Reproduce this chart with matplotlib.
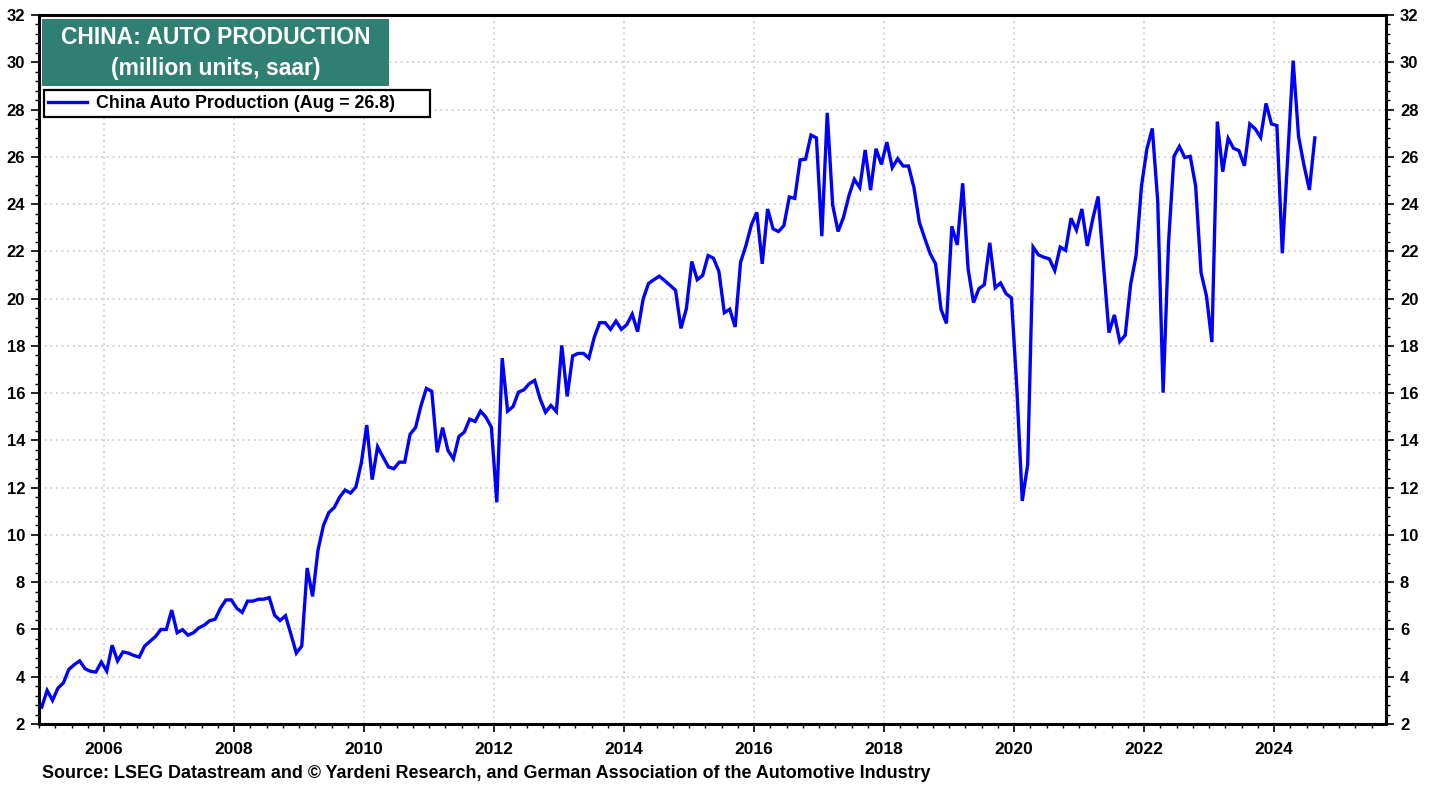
import matplotlib.pyplot as plt
import numpy as np
from matplotlib.ticker import MultipleLocator, FuncFormatter

plt.rcParams["font.family"] = ["Liberation Sans", "DejaVu Sans"]
plt.rcParams["font.weight"] = "bold"

start_year = 2005
# monthly values, million units saar, Jan 2005 .. Aug 2024
production = [
    2.71, 3.42, 3.0, 3.52, 3.74, 4.31, 4.51, 4.67, 4.34, 4.23, 4.2, 4.62,
    4.24, 5.33, 4.67, 5.05, 5.0, 4.9, 4.83, 5.3, 5.5, 5.7, 6.0, 6.0,
    6.82, 5.86, 5.99, 5.76, 5.86, 6.07, 6.18, 6.37, 6.43, 6.9, 7.25, 7.25,
    6.9, 6.72, 7.2, 7.2, 7.28, 7.28, 7.35, 6.6, 6.38, 6.58, 5.8, 5.0,
    5.3, 8.6, 7.4, 9.36, 10.4, 10.95, 11.16, 11.6, 11.9, 11.77, 12.03, 13.05,
    14.65, 12.34, 13.73, 13.3, 12.88, 12.8, 13.08, 13.08, 14.26, 14.54, 15.46, 16.2,
    16.08, 13.5, 14.54, 13.57, 13.22, 14.16, 14.35, 14.9, 14.8, 15.24, 14.98, 14.56,
    11.38, 17.48, 15.24, 15.43, 16.04, 16.14, 16.4, 16.54, 15.76, 15.19, 15.48, 15.22,
    18.02, 15.86, 17.57, 17.68, 17.68, 17.48, 18.37, 18.98, 18.98, 18.7, 19.05, 18.7,
    18.9, 19.34, 18.6, 19.97, 20.64, 20.8, 20.95, 20.76, 20.56, 20.35, 18.74, 19.58,
    21.57, 20.8, 20.98, 21.82, 21.71, 21.15, 19.4, 19.55, 18.8, 21.54, 22.25, 23.12,
    23.65, 21.47, 23.79, 22.95, 22.84, 23.09, 24.3, 24.24, 25.87, 25.9, 26.92, 26.8,
    22.64, 27.86, 23.96, 22.84, 23.44, 24.35, 25.05, 24.7, 26.29, 24.59, 26.34, 25.68,
    26.62, 25.54, 25.92, 25.61, 25.61, 24.7, 23.23, 22.55, 21.9, 21.47, 19.55, 18.95,
    23.06, 22.27, 24.88, 21.26, 19.83, 20.42, 20.59, 22.36, 20.46, 20.66, 20.21, 20.03,
    16.2, 11.44, 12.98, 22.18, 21.85, 21.75, 21.68, 21.19, 22.18, 22.04, 23.4, 22.9,
    23.79, 22.23, 23.36, 24.32, 21.4, 18.56, 19.31, 18.18, 18.45, 20.6, 21.81, 24.75,
    26.33, 27.2, 24.14, 16.02, 22.37, 26.02, 26.44, 25.97, 26.02, 24.77, 21.1, 20.11,
    18.16, 27.49, 25.37, 26.78, 26.36, 26.26, 25.62, 27.39, 27.18, 26.82, 28.26, 27.39,
    27.32, 21.92, 26.0, 30.07, 26.86, 25.64, 24.6, 26.8,
]

title_lines = ["CHINA: AUTO PRODUCTION", "(million units, saar)"]
legend_label = "China Auto Production (Aug = 26.8)"
source = ("Source: LSEG Datastream and \u00a9 Yardeni Research, "
          "and German Association of the Automotive Industry")

# mid-month positions in decimal years
x = start_year + (np.arange(len(production)) + 0.5) / 12

W, H = 1438, 785
fig = plt.figure(figsize=(W / 100, H / 100), dpi=100)
ax = fig.add_axes([39 / W, 1 - 724 / H, (1386 - 39) / W, (724 - 15) / H])

line, = ax.plot(x, production, color="#0000FF", linewidth=2.4, solid_joinstyle="miter")

ax.set_xlim(2005, 2025.72)
ax.set_ylim(2, 32)

ax.xaxis.set_major_locator(MultipleLocator(2))
ax.xaxis.set_minor_locator(MultipleLocator(0.25))
ax.xaxis.set_major_formatter(FuncFormatter(lambda v, p: f"{int(round(v))}"))
ax.yaxis.set_major_locator(MultipleLocator(2))
ax.yaxis.set_minor_locator(MultipleLocator(0.4))
ax.yaxis.set_major_formatter(FuncFormatter(lambda v, p: f"{int(round(v))}"))

ax.tick_params(axis="both", which="major", direction="out", length=6, width=1.2,
               labelsize=12, pad=4)
ax.tick_params(axis="both", which="minor", direction="out", length=3, width=1)
ax.tick_params(axis="y", which="both", left=True, right=True, labelleft=True, labelright=True)
ax.tick_params(axis="x", which="major", pad=7, labelsize=12.5)
for lbl in ax.get_xticklabels() + ax.get_yticklabels():
    lbl.set_fontweight("bold")

for side in ["left", "right", "bottom", "top"]:
    ax.spines[side].set_linewidth(2.2)
    ax.spines[side].set_color("black")

ax.grid(True, which="major", color="#C8C8C8", linestyle=(0, (1.2, 2.5)), linewidth=1.1)

# title box
ax.add_patch(plt.Rectangle((42 / W, 1 - 86 / H), 347 / W, 67 / H,
                           transform=fig.transFigure, facecolor="#2F7F72",
                           edgecolor="none", zorder=4, clip_on=False))
ax.text(216 / W, 1 - 37 / H, title_lines[0], transform=fig.transFigure,
        ha="center", va="center", color="white", fontsize=16.5, fontweight="bold", zorder=5)
ax.text(216 / W, 1 - 69 / H, title_lines[1], transform=fig.transFigure,
        ha="center", va="center", color="white", fontsize=16.5, fontweight="bold", zorder=5)

# legend: white box with black frame, wider than its text
ax.add_patch(plt.Rectangle((44 / W, 1 - 117 / H), 386 / W, 27 / H,
                           transform=fig.transFigure, facecolor="white",
                           edgecolor="black", linewidth=1.6, zorder=6, clip_on=False))
leg = ax.legend([line], [legend_label], loc="center left",
                bbox_to_anchor=(44 / W, 1 - 103.5 / H), bbox_transform=fig.transFigure,
                frameon=False, fontsize=12.8, handlelength=2.2,
                borderpad=0.2, handletextpad=0.5, borderaxespad=0)
leg.set_zorder(7)
for txt in leg.get_texts():
    txt.set_fontweight("bold")

fig.text(42 / W, 1 - 774 / H, source, ha="left", va="center",
         fontsize=12.9, fontweight="bold")

fig.savefig("out.png", dpi=100)
